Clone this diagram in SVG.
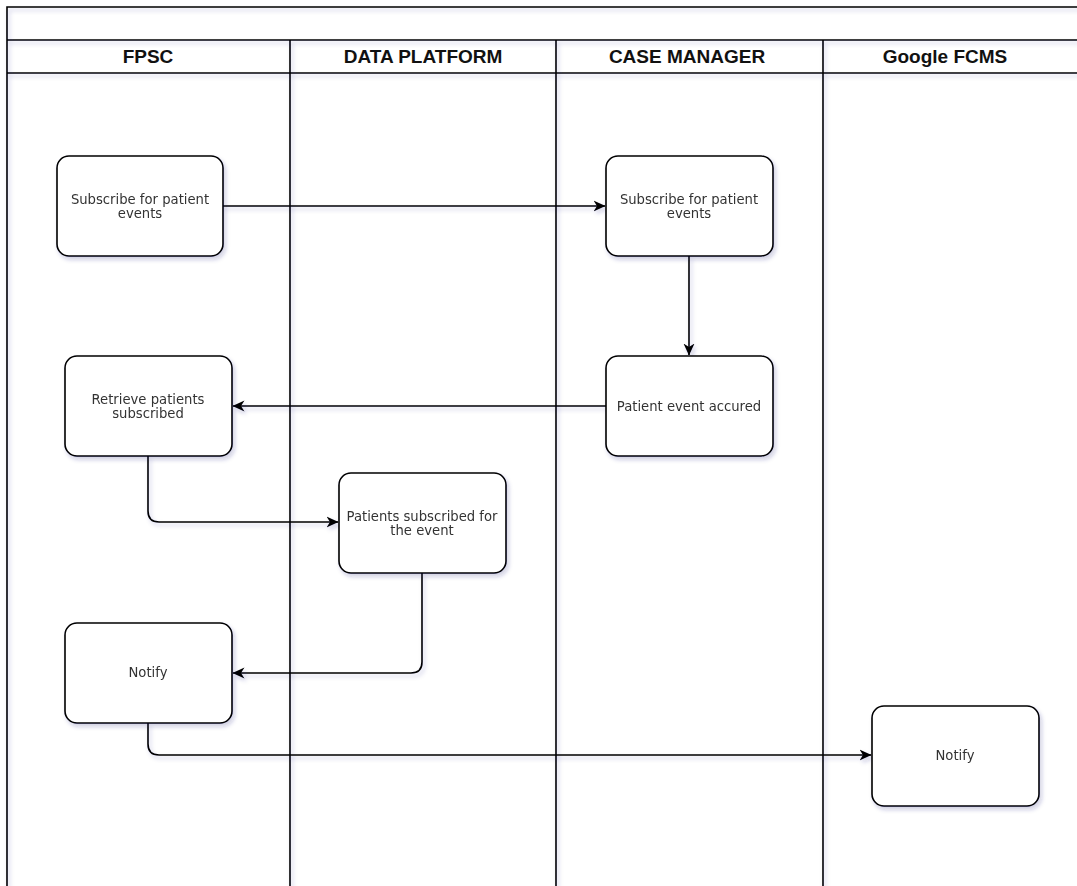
<svg xmlns="http://www.w3.org/2000/svg" width="1077" height="886" viewBox="0 0 1077 886">
<style>
.lane{fill:none;stroke:#000;stroke-width:1.6}
.hdr{font-family:"Liberation Sans",Arial,sans-serif;font-weight:bold;font-size:19px;fill:#111;text-anchor:middle}
.box{fill:#fff;stroke:#000;stroke-width:1.6}
.lbl{font-family:"DejaVu Sans",Verdana,sans-serif;font-size:13.2px;fill:#333;text-anchor:middle}
.edge{fill:none;stroke:#000;stroke-width:1.6}
</style>
<defs>
<filter id="sh" x="-20%" y="-20%" width="140%" height="140%">
<feDropShadow dx="2" dy="3" stdDeviation="2" flood-color="#2a2a78" flood-opacity="0.22"/>
</filter>
<marker id="arr" viewBox="0 0 12 12" refX="11.5" refY="6" markerWidth="12" markerHeight="12" markerUnits="userSpaceOnUse" orient="auto">
<path d="M0,0.5 L12,6 L0,11.5 L3.5,6 Z" fill="#000"/>
</marker>
</defs>
<rect width="1077" height="886" fill="#fff"/>
<g id="pool" filter="url(#sh)">
<path class="lane" d="M1090,7 H7 V900"/>
<path class="lane" d="M7,40 H1090"/>
<path class="lane" d="M7,73 H1090"/>
<path class="lane" d="M290,40 V900"/>
<path class="lane" d="M556,40 V900"/>
<path class="lane" d="M823,40 V900"/>
</g>
<g id="headers">
<text class="hdr" x="148" y="63">FPSC</text>
<text class="hdr" x="423" y="63">DATA PLATFORM</text>
<text class="hdr" x="687" y="63">CASE MANAGER</text>
<text class="hdr" x="945" y="63">Google FCMS</text>
</g>
<g id="connectors" filter="url(#sh)">
<path class="edge" d="M222,206 H605" marker-end="url(#arr)"/>
<path class="edge" d="M689,256 V355" marker-end="url(#arr)"/>
<path class="edge" d="M606,406 H233" marker-end="url(#arr)"/>
<path class="edge" d="M148,456 V511 Q148,522 159,522 H338" marker-end="url(#arr)"/>
<path class="edge" d="M422,573 V662 Q422,673 411,673 H233" marker-end="url(#arr)"/>
<path class="edge" d="M148,723 V744 Q148,755 159,755 H871" marker-end="url(#arr)"/>
</g>
<g id="n1" filter="url(#sh)">
<rect class="box" x="57" y="156" width="166" height="100" rx="12"/>
<text class="lbl" x="140" y="204">Subscribe for patient</text>
<text class="lbl" x="140" y="218">events</text>
</g>
<g id="n2" filter="url(#sh)">
<rect class="box" x="606" y="156" width="167" height="100" rx="12"/>
<text class="lbl" x="689" y="204">Subscribe for patient</text>
<text class="lbl" x="689" y="218">events</text>
</g>
<g id="n3" filter="url(#sh)">
<rect class="box" x="606" y="356" width="167" height="100" rx="12"/>
<text class="lbl" x="689" y="411">Patient event accured</text>
</g>
<g id="n4" filter="url(#sh)">
<rect class="box" x="65" y="356" width="167" height="100" rx="12"/>
<text class="lbl" x="148" y="404">Retrieve patients</text>
<text class="lbl" x="148" y="418">subscribed</text>
</g>
<g id="n5" filter="url(#sh)">
<rect class="box" x="339" y="473" width="167" height="100" rx="12"/>
<text class="lbl" x="422" y="521">Patients subscribed for</text>
<text class="lbl" x="422" y="535">the event</text>
</g>
<g id="n6" filter="url(#sh)">
<rect class="box" x="65" y="623" width="167" height="100" rx="12"/>
<text class="lbl" x="148" y="677">Notify</text>
</g>
<g id="n7" filter="url(#sh)">
<rect class="box" x="872" y="706" width="167" height="100" rx="12"/>
<text class="lbl" x="955" y="760">Notify</text>
</g>
</svg>
